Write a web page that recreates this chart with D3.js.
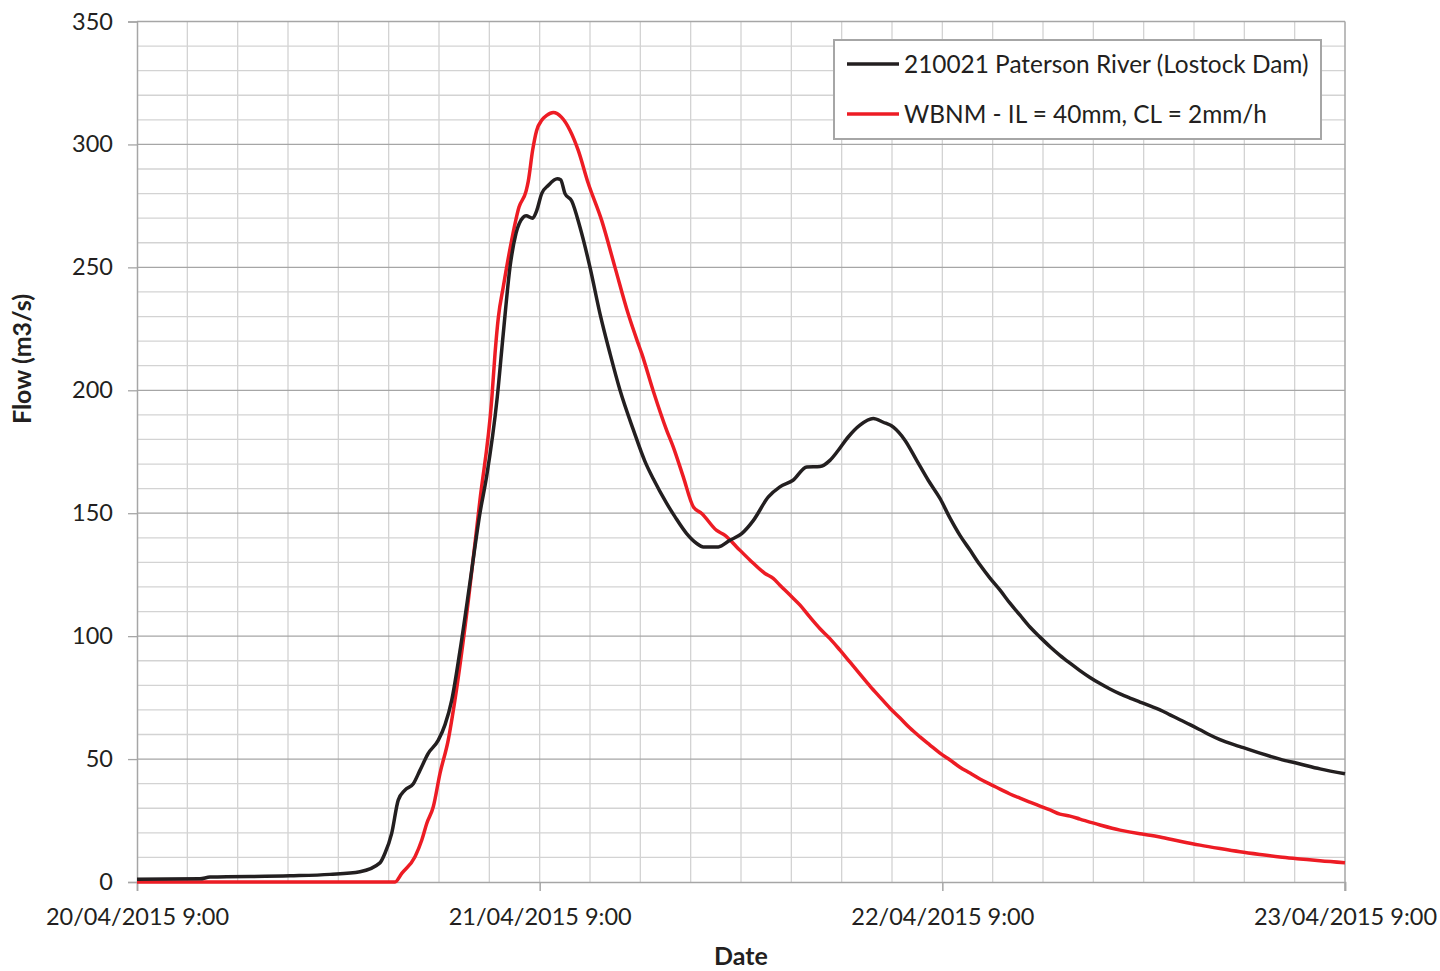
<!DOCTYPE html>
<meta charset="utf-8">
<script src="https://cdnjs.cloudflare.com/ajax/libs/d3/7.8.5/d3.min.js"></script>
<style>
  body { margin: 0; background: #fff; }
  text { font-family: Lato, "Open Sans", sans-serif; fill: #231f20; }
</style>
<div id="chart"></div>
<script>

// hours after 20/04/2015 9:00 and flow in m3/s
var obsHours = [0, 3.75, 4.35, 9.12, 11.5, 13.29, 14.48, 14.78, 15.18, 15.57, 15.97, 16.47, 16.87, 17.36, 17.96, 18.36, 18.76, 19.25, 19.85, 20.44, 20.84, 21.47, 21.83, 22.23, 22.59, 23.02, 23.19, 23.58, 23.82, 24.12, 24.51, 25.05, 25.25, 25.51, 25.91, 26.40, 27.0, 27.6, 28.19, 28.79, 29.58, 30.28, 30.77, 31.57, 32.07, 32.76, 33.36, 33.75, 34.65, 35.34, 36.04, 36.73, 37.63, 38.32, 39.1, 39.92, 40.71, 41.30, 41.80, 42.39, 43.09, 43.88, 44.48, 45.08, 45.77, 46.47, 47.16, 47.86, 48.46, 49.05, 49.65, 50.24, 50.84, 51.44, 52.03, 52.63, 53.22, 53.82, 54.42, 55.01, 55.61, 56.20, 56.80, 57.40, 57.99, 58.59, 59.18, 59.78, 60.38, 60.97, 61.57, 62.16, 62.76, 63.36, 63.95, 64.55, 65.74, 66.93, 68.12, 69.32, 70.51, 72];
var obsFlow = [1.1, 1.3, 2.0, 2.5, 3.1, 4.2, 7.8, 11.7, 19.8, 33.3, 37.4, 40, 45.5, 52.3, 57.7, 64, 74, 94, 122, 150, 165, 197, 223, 250, 263.8, 270.4, 271, 270, 273, 280, 283.3, 286, 285.6, 280, 277, 266.4, 250, 231, 215, 200, 184, 171, 164, 154, 148.5, 141.7, 137.7, 136.3, 136.3, 139, 141.7, 147, 156.6, 160.7, 163.4, 168.8, 169, 171.5, 175.6, 181, 185.8, 188.5, 187, 185, 179.7, 171.5, 163.4, 156, 148, 141, 135, 129, 123.6, 118.7, 113.4, 108.5, 103.7, 99.6, 95.7, 92.2, 89, 86, 83.2, 80.7, 78.5, 76.5, 74.8, 73.2, 71.6, 70, 68, 66, 64, 61.9, 59.8, 57.9, 55.1, 52.4, 50, 48, 46, 44];

var modHours = [0, 15.38, 15.78, 16.57, 16.97, 17.27, 17.66, 18.06, 18.55, 18.95, 19.75, 20.44, 21.14, 21.34, 21.54, 21.83, 22.33, 22.77, 23.19, 23.32, 23.58, 23.82, 24.12, 24.42, 24.81, 25.31, 25.81, 26.30, 26.88, 27.70, 28.49, 29.28, 29.82, 30.08, 30.77, 31.57, 31.96, 32.56, 33.16, 33.66, 34.55, 35.05, 35.74, 36.54, 37.43, 37.92, 38.32, 38.92, 39.52, 40.11, 40.71, 41.30, 41.90, 42.50, 43.09, 43.69, 44.28, 44.88, 45.48, 46.07, 46.67, 47.26, 47.86, 48.46, 49.05, 49.65, 50.24, 50.84, 51.44, 52.03, 52.63, 53.22, 53.82, 54.42, 55.01, 55.61, 56.20, 57.40, 58.59, 59.78, 60.38, 60.97, 62.16, 63.36, 64.55, 65.74, 66.93, 68.12, 69.32, 70.51, 72];
var modFlow = [0, 0, 3.5, 10.3, 17, 23.8, 30.6, 44.2, 57.7, 74, 114.6, 155.3, 196, 215, 229.8, 242, 261, 274.5, 281, 285, 297.6, 305.7, 309.8, 311.8, 313, 311, 305.7, 297.6, 284.5, 269, 250, 231, 220, 215, 199.7, 183.7, 177, 164.8, 152.6, 149.9, 143, 141, 136.3, 130.9, 125.5, 123.5, 120.7, 116.7, 112.6, 107.7, 103, 99, 94.3, 89.4, 84.6, 79.7, 75.2, 70.7, 66.7, 62.6, 59, 55.7, 52.4, 49.6, 46.7, 44.3, 41.9, 39.8, 37.8, 35.8, 34.1, 32.5, 30.9, 29.3, 27.6, 26.8, 25.6, 23.2, 21.1, 19.6, 19, 18.3, 16.6, 15, 13.6, 12.3, 11.2, 10.2, 9.4, 8.6, 7.8];

var seriesNames = ["210021 Paterson River (Lostock Dam)", "WBNM - IL = 40mm, CL = 2mm/h"];
var seriesColors = ["#231f20", "#ed1c24"];

var xTickHours = [0, 24, 48, 72];
var xTickLabels = ["20/04/2015 9:00", "21/04/2015 9:00", "22/04/2015 9:00", "23/04/2015 9:00"];
var yTicks = [0, 50, 100, 150, 200, 250, 300, 350];

var margin = {top: 21.5, right: 95, bottom: 89, left: 137},
    width = 1440 - margin.left - margin.right,
    height = 971 - margin.top - margin.bottom;

var svg = d3.select("#chart").append("svg")
    .attr("width", 1440)
    .attr("height", 971)
  .append("g")
    .attr("transform", "translate(" + margin.left + "," + margin.top + ")");

var x = d3.scaleLinear().domain([0, 72]).range([0, width]);
var y = d3.scaleLinear().domain([0, 350]).range([height, 0]);

// minor grid, every 3 hours and every 10 m3/s
svg.append("g")
  .selectAll("line")
  .data(d3.range(3, 72, 3))
  .enter().append("line")
    .attr("x1", function(d) { return x(d); })
    .attr("x2", function(d) { return x(d); })
    .attr("y1", 0).attr("y2", height)
    .attr("stroke", "#d3d3d3").attr("stroke-width", 1.3);

svg.append("g")
  .selectAll("line")
  .data(d3.range(10, 350, 10).filter(function(d) { return d % 50 != 0; }))
  .enter().append("line")
    .attr("x1", 0).attr("x2", width)
    .attr("y1", function(d) { return y(d); })
    .attr("y2", function(d) { return y(d); })
    .attr("stroke", "#d3d3d3").attr("stroke-width", 1.3);

// major horizontal grid
svg.append("g")
  .selectAll("line")
  .data(yTicks.slice(1))
  .enter().append("line")
    .attr("x1", 0).attr("x2", width)
    .attr("y1", function(d) { return y(d); })
    .attr("y2", function(d) { return y(d); })
    .attr("stroke", "#a6a6a6").attr("stroke-width", 1.3);

// right edge
svg.append("line")
    .attr("x1", width).attr("x2", width)
    .attr("y1", 0).attr("y2", height + 9)
    .attr("stroke", "#a6a6a6").attr("stroke-width", 1.5);

// y axis
var yAxis = d3.axisLeft(y).tickValues(yTicks).tickSize(9).tickPadding(15);
var gy = svg.append("g").call(yAxis);
gy.select(".domain").attr("stroke", "#a6a6a6").attr("stroke-width", 1.5);
gy.selectAll(".tick line").attr("stroke", "#a6a6a6").attr("stroke-width", 1.3);
gy.selectAll(".tick text")
    .style("font-size", "23.5px")
    .style("font-family", "Lato, sans-serif")
    .attr("fill", "#231f20");

// x axis
var xAxis = d3.axisBottom(x).tickValues(xTickHours).tickSize(9).tickPadding(17)
    .tickFormat(function(d, i) { return xTickLabels[i]; });
var gx = svg.append("g")
    .attr("transform", "translate(0," + height + ")")
    .call(xAxis);
gx.select(".domain").attr("stroke", "#a6a6a6").attr("stroke-width", 1.5);
gx.selectAll(".tick line").attr("stroke", "#a6a6a6").attr("stroke-width", 1.5);
gx.selectAll(".tick text")
    .style("font-size", "23.5px")
    .style("font-family", "Lato, sans-serif")
    .attr("fill", "#231f20");

// lines
var valueline = d3.line()
    .x(function(d) { return x(d[0]); })
    .y(function(d) { return y(d[1]); })
    .curve(d3.curveMonotoneX);

var obsData = obsHours.map(function(h, i) { return [h, obsFlow[i]]; });
var modData = modHours.map(function(h, i) { return [h, modFlow[i]]; });

svg.append("path")
    .datum(modData)
    .attr("d", valueline)
    .attr("fill", "none")
    .attr("stroke", seriesColors[1])
    .attr("stroke-width", 3.5)
    .attr("stroke-linejoin", "round");

svg.append("path")
    .datum(obsData)
    .attr("d", valueline)
    .attr("fill", "none")
    .attr("stroke", seriesColors[0])
    .attr("stroke-width", 3.5)
    .attr("stroke-linejoin", "round");

// axis titles
svg.append("text")
    .attr("x", width / 2)
    .attr("y", height + 83)
    .attr("text-anchor", "middle")
    .style("font-size", "25px")
    .style("font-weight", "bold")
    .text("Date");

svg.append("text")
    .attr("transform", "translate(" + (-106) + "," + (359 - margin.top) + ") rotate(-90)")
    .attr("text-anchor", "middle")
    .style("font-size", "25px")
    .style("font-weight", "bold")
    .text("Flow (m3/s)");

// legend
var legend = svg.append("g")
    .attr("transform", "translate(" + (834 - margin.left) + "," + (40 - margin.top) + ")");

legend.append("rect")
    .attr("width", 487)
    .attr("height", 99)
    .attr("fill", "#fff")
    .attr("stroke", "#a6a6a6")
    .attr("stroke-width", 2);

seriesNames.forEach(function(name, i) {
  legend.append("line")
      .attr("x1", 13).attr("x2", 65)
      .attr("y1", 24 + i * 50).attr("y2", 24 + i * 50)
      .attr("stroke", seriesColors[i])
      .attr("stroke-width", 3.5);
  legend.append("text")
      .attr("x", 70)
      .attr("y", 24 + i * 50)
      .attr("dy", "0.35em")
      .style("font-size", "24.4px")
      .text(name);
});

</script>
